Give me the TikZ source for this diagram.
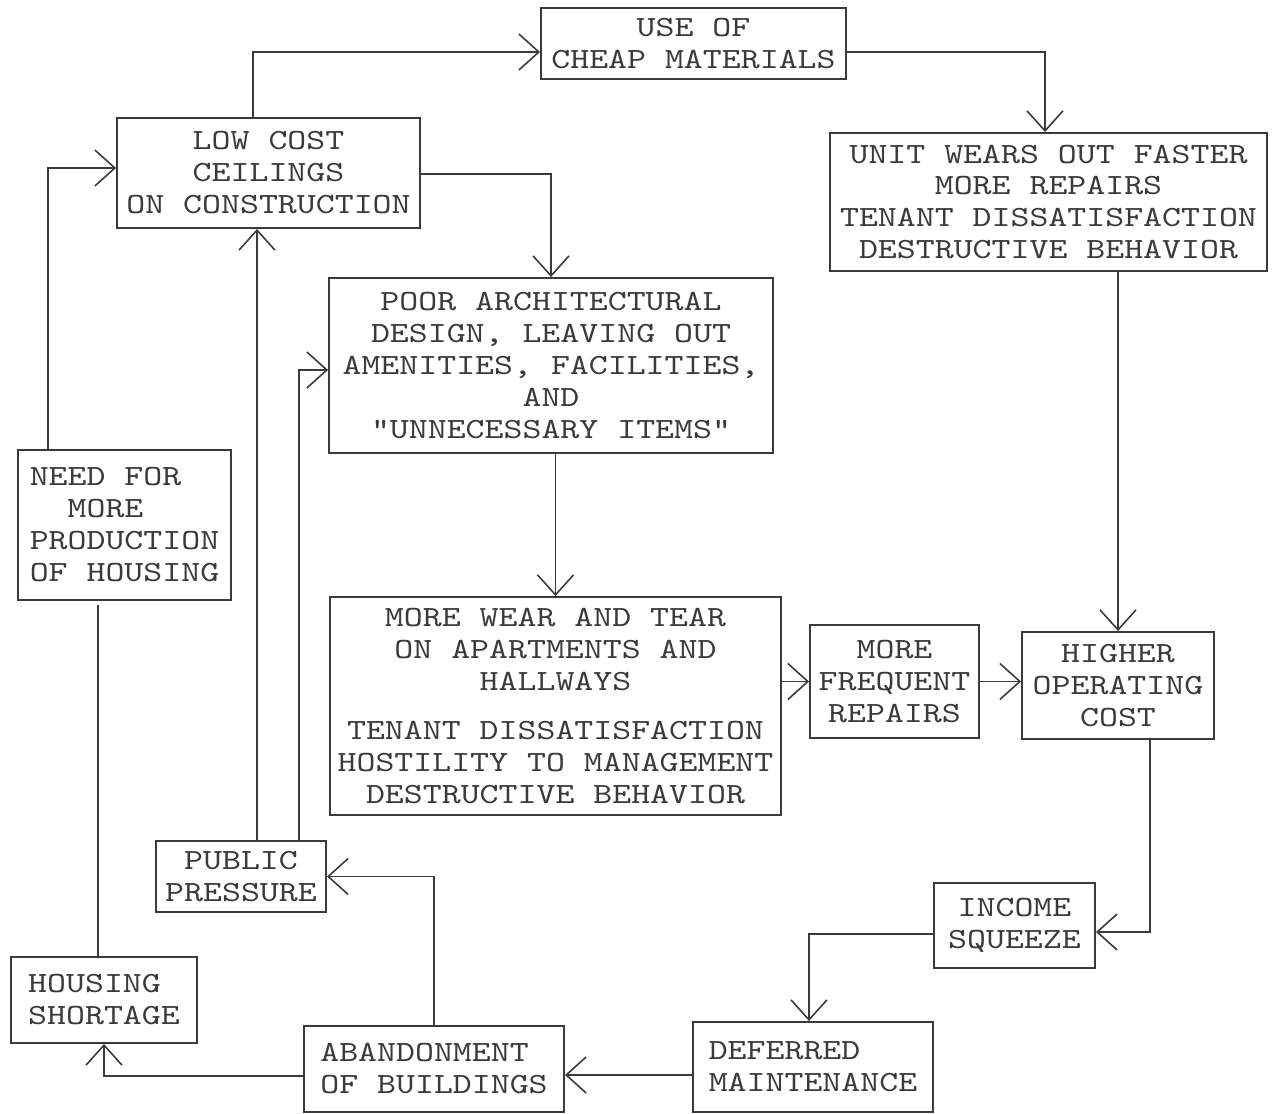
\documentclass[tikz,border=0pt]{standalone}
\usepackage{fontspec}
\newfontfamily\tw{lmmono10-regular.otf}[FakeStretch=1.23]
\usetikzlibrary{arrows.meta,calc}
\definecolor{ink}{HTML}{3A3A3A}
\begin{document}
\begin{tikzpicture}[x=0.02cm,y=-0.02cm,
  box/.style={draw=ink, line width=1.1pt, text=ink, inner xsep=1pt, inner ysep=1pt,
    align=center, font=\tw\fontsize{16.7}{18.2}\selectfont},
  lbox/.style={box, align=left},
  arr/.style={draw=ink, line width=0.9pt, -{Straight Barb[length=0.4cm,width=0.72cm]}},
  plain/.style={draw=ink, line width=0.9pt}]
\useasboundingbox (0,0) rectangle (1282,1114);

\node[box, minimum width=6.10cm, minimum height=1.42cm] (use) at (693.5,43.5) {USE OF\\CHEAP MATERIALS};
\node[box, minimum width=6.06cm, minimum height=2.20cm] (low) at (268.5,173) {LOW COST\\CEILINGS\\ON CONSTRUCTION};
\node[box, minimum width=8.74cm, minimum height=2.76cm] (unit) at (1048.5,202) {UNIT WEARS OUT FASTER\\MORE REPAIRS\\TENANT DISSATISFACTION\\DESTRUCTIVE BEHAVIOR};
\node[box, minimum width=8.88cm, minimum height=3.50cm] (poor) at (551,365.5) {POOR ARCHITECTURAL\\DESIGN, LEAVING OUT\\AMENITIES, FACILITIES,\\AND\\"UNNECESSARY ITEMS"};
\node[box, minimum width=9.02cm, minimum height=4.36cm] (wear) at (555.5,706) {MORE WEAR AND TEAR\\ON APARTMENTS AND\\HALLWAYS\\[9.7pt]TENANT DISSATISFACTION\\HOSTILITY TO MANAGEMENT\\DESTRUCTIVE BEHAVIOR};
\node[box, minimum width=3.38cm, minimum height=2.26cm] (freq) at (894.5,681.5) {MORE\\FREQUENT\\REPAIRS};
\node[box, minimum width=3.84cm, minimum height=2.14cm] (high) at (1118,685.5) {HIGHER\\OPERATING\\COST};
\node[box, minimum width=3.22cm, minimum height=1.70cm] (inc) at (1014.5,925.5) {INCOME\\SQUEEZE};
\node[lbox, minimum width=4.80cm, minimum height=1.80cm] (def) at (813,1067) {DEFERRED\\MAINTENANCE};
\node[lbox, minimum width=5.20cm, minimum height=1.72cm] (aband) at (434,1069) {ABANDONMENT\\OF BUILDINGS};
\node[box, minimum width=3.40cm, minimum height=1.42cm] (pub) at (241,876.5) {PUBLIC\\PRESSURE};
\node[lbox, minimum width=3.72cm, minimum height=1.72cm] (hous) at (104,1000) {HOUSING\\SHORTAGE};
\node[lbox, minimum width=4.26cm, minimum height=3.00cm] (need) at (124.5,525) {NEED FOR\\\hspace*{1.29em}MORE\\PRODUCTION\\OF HOUSING};

% connectors
\draw[arr] ($(low.north)+(-15.5,0)$) |- ($(use.west)+(0,8.5)$);
\draw[arr] ($(use.east)+(0,8.5)$) -| ($(unit.north)+(-3.5,0)$);
\draw[arr] ($(low.east)+(0,1)$) -| (poor.north);
\draw[arr] (poor.south -| wear.north) -- (wear.north);
\draw[arr] (wear.east |- freq.west) -- (freq.west);
\draw[arr] (freq.east) -- (freq.east -| high.west);
\draw[arr] (unit.south -| high.north) -- (high.north);
\draw[arr] ($(high.south)+(32,0)$) |- ($(inc.east)+(0,6.5)$);
\draw[arr] ($(inc.west)+(0,8.5)$) -| ($(def.north)+(-4,0)$);
\draw[arr] ($(def.west)+(0,8)$) -- ($(aband.east)+(0,6)$);
\draw[arr] (aband.north) |- (pub.east);
\draw[arr] ($(pub.north)+(16,0)$) -- ($(low.south)+(-11.5,0)$);
\draw[arr] ($(pub.north)+(58,0)$) |- ($(poor.west)+(0,4.5)$);
\draw[arr] ($(aband.west)+(0,7)$) -| (hous.south);
\draw[plain] ($(hous.north)+(-6,0)$) -- ($(need.south)+(-26.5,4)$);
\draw[arr] ($(need.north)+(-76.5,0)$) |- ($(low.west)+(0,-5)$);
\end{tikzpicture}
\end{document}
